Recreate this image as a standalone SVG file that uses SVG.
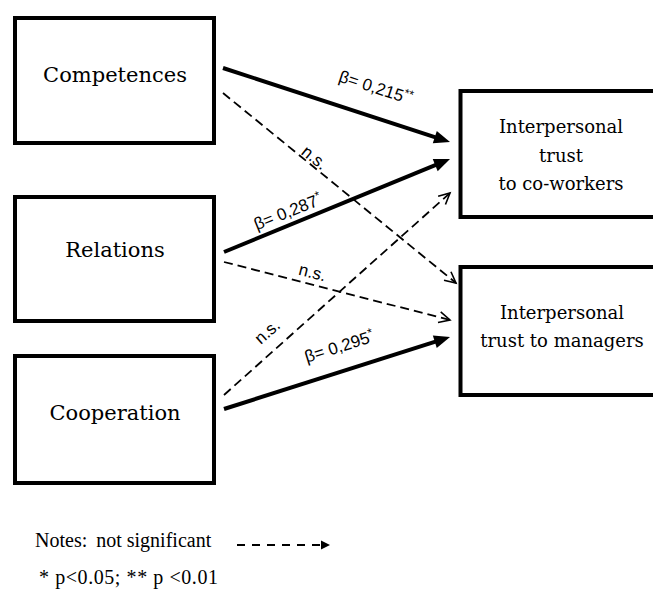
<svg xmlns="http://www.w3.org/2000/svg" width="653" height="590" viewBox="0 0 653 590">
<style>
.box{fill:#fff;stroke:#000;stroke-width:4}
.bt{font-family:"DejaVu Serif","Liberation Serif",serif;fill:#000;text-anchor:middle}
.lbl{font-family:"Liberation Sans",Arial,sans-serif;font-size:17px;fill:#000;text-anchor:middle}
.sup{font-size:12px}
.solid{stroke:#000;stroke-width:4;fill:none;marker-end:url(#hs)}
.dash{stroke:#000;stroke-width:1.8;fill:none;stroke-dasharray:9 5;marker-end:url(#ho)}
.note{font-family:"Liberation Serif","Times New Roman",serif;font-size:20px;fill:#000}
</style>
<defs>
<marker id="hs" markerUnits="userSpaceOnUse" markerWidth="20" markerHeight="14" refX="4" refY="6.5" orient="auto" overflow="visible">
<path d="M0,0 L16,6.5 L0,13 Z" fill="#000"/>
</marker>
<marker id="ho" markerUnits="userSpaceOnUse" markerWidth="14" markerHeight="14" refX="11" refY="5.5" orient="auto" overflow="visible">
<path d="M0,0 L11,5.5 L0,11" fill="none" stroke="#000" stroke-width="1.6"/>
</marker>
<marker id="hl" markerUnits="userSpaceOnUse" markerWidth="12" markerHeight="10" refX="2" refY="4.5" orient="auto" overflow="visible">
<path d="M0,0 L9,4.5 L0,9 Z" fill="#000"/>
</marker>
</defs>

<g id="competences">
<rect class="box" x="15" y="18" width="199" height="125"/>
<text class="bt" x="115" y="82" font-size="21">Competences</text>
</g>
<g id="relations">
<rect class="box" x="15" y="197" width="199" height="124"/>
<text class="bt" x="115" y="257" font-size="21">Relations</text>
</g>
<g id="cooperation">
<rect class="box" x="15" y="356" width="199" height="127"/>
<text class="bt" x="115" y="420" font-size="21">Cooperation</text>
</g>
<g id="trust-coworkers">
<rect class="box" x="460.5" y="91" width="205" height="126"/>
<text class="bt" font-size="18"><tspan x="561" y="133">Interpersonal</tspan><tspan x="561" y="162">trust</tspan><tspan x="561" y="190">to co-workers</tspan></text>
</g>
<g id="trust-managers">
<rect class="box" x="460.5" y="267" width="205" height="128"/>
<text class="bt" font-size="18"><tspan x="562" y="319">Interpersonal</tspan><tspan x="562" y="347">trust to managers</tspan></text>
</g>

<g id="connectors">
<line class="solid" x1="223" y1="68" x2="438.6" y2="138.3"/>
<line class="dash" x1="223" y1="93" x2="456" y2="283"/>
<line class="solid" x1="224" y1="252" x2="438.9" y2="163.6"/>
<line class="dash" x1="224" y1="262" x2="450" y2="320"/>
<line class="dash" x1="224" y1="395" x2="450" y2="193"/>
<line class="solid" x1="224" y1="409" x2="438.6" y2="340.6"/>

<text class="lbl" transform="translate(374,93) rotate(18)">β= 0,215<tspan class="sup" dy="-6">**</tspan></text>
<text class="lbl" transform="translate(311,162) rotate(39)">n.s.</text>
<text class="lbl" transform="translate(290,217) rotate(-21.7)">β= 0,287<tspan class="sup" dy="-6">*</tspan></text>
<text class="lbl" transform="translate(311,278) rotate(14.3)">n.s.</text>
<text class="lbl" transform="translate(271,336) rotate(-41.5)">n.s.</text>
<text class="lbl" transform="translate(341,352) rotate(-17.5)">β= 0,295<tspan class="sup" dy="-6">*</tspan></text>
</g>

<g id="legend">
<text class="note" x="35" y="547">Notes:<tspan dx="9">not significant</tspan></text>
<line x1="237" y1="545" x2="323" y2="545" stroke="#000" stroke-width="2" stroke-dasharray="8 7" marker-end="url(#hl)"/>
<text class="note" x="39" y="584" textLength="179">* p&lt;0.05; ** p &lt;0.01</text>
</g>
</svg>
